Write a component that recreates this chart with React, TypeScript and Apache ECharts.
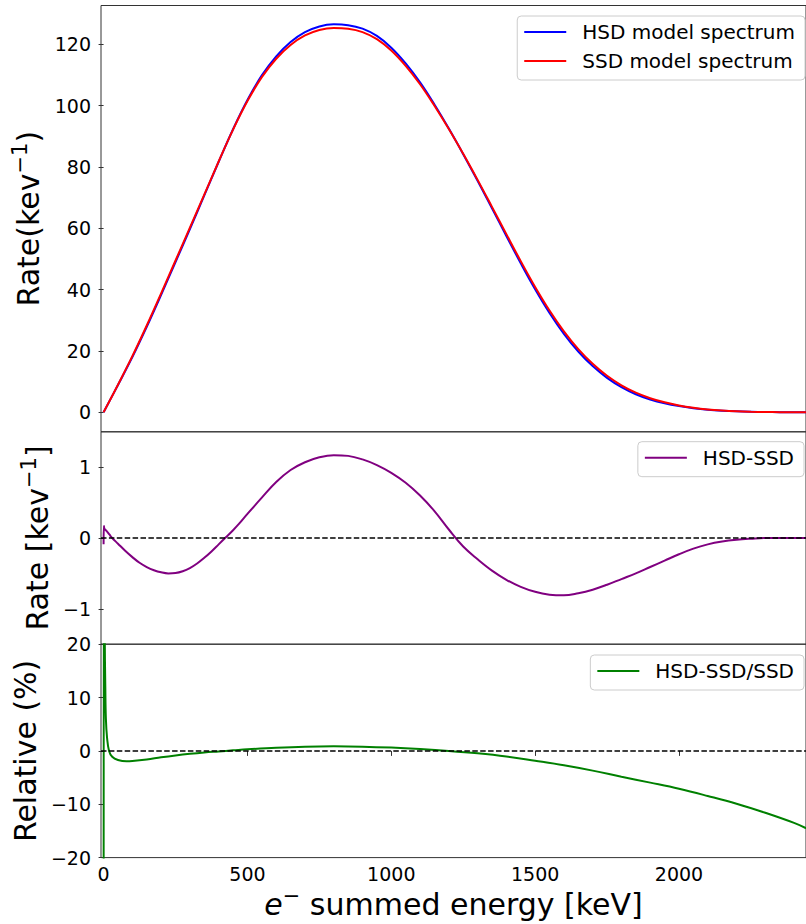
import React, { useEffect, useRef } from 'react';
import * as echarts from 'echarts';

// ---------- data ----------
// Panel 1: model spectra (keV -> rate per keV)
const energies = [
  0, 50, 100, 150, 200, 250, 300, 350, 400, 450, 500, 550, 600, 650, 700, 750, 800, 850, 900, 950,
  1000, 1050, 1100, 1150, 1200, 1250, 1300, 1350, 1400, 1450, 1500, 1550, 1600, 1650, 1700, 1750,
  1800, 1850, 1900, 1950, 2000, 2050, 2100, 2150, 2200, 2250, 2300, 2350, 2400, 2442,
];
const hsdRate = [
  0, 8.92, 18.02, 27.89, 38.31, 49.01, 59.78, 70.72, 81.71, 92.31, 101.84, 109.87, 116.09, 120.76,
  123.97, 125.84, 126.52, 126.26, 125.11, 122.74, 118.92, 113.78, 107.6, 100.38, 92.52, 84.18, 75.5,
  66.54, 57.51, 48.61, 40.14, 32.4, 25.59, 19.82, 15.07, 11.24, 8.22, 5.9, 4.19, 2.93, 2.02, 1.35,
  0.86, 0.53, 0.305, 0.17, 0.09, 0.04, 0.01, 0,
];
const ssdRate = [
  0, 9.0, 18.3, 28.3, 38.8, 49.5, 60.2, 71.0, 81.8, 92.2, 101.5, 109.3, 115.3, 119.8, 122.9, 124.7,
  125.35, 125.1, 124.0, 121.7, 118.0, 113.0, 107.0, 100.0, 92.4, 84.3, 75.8, 67.0, 58.1, 49.3, 40.9,
  33.2, 26.4, 20.6, 15.8, 11.9, 8.8, 6.4, 4.6, 3.25, 2.25, 1.5, 0.95, 0.58, 0.33, 0.18, 0.09, 0.04,
  0.01, 0,
];

// Panel 2: HSD - SSD
const diffEnergies = [
  0, 1, 3, 10, 20, 30, 50, 75, 100, 125, 150, 175, 200, 225, 250, 275, 300, 325, 350, 375, 400, 425,
  450, 475, 500, 550, 600, 650, 700, 750, 800, 850, 900, 950, 1000, 1050, 1100, 1150, 1200, 1250,
  1300, 1350, 1400, 1450, 1500, 1550, 1600, 1650, 1700, 1750, 1800, 1850, 1900, 1950, 2000, 2050,
  2100, 2150, 2200, 2250, 2300, 2442,
];
const diffRate = [
  -0.09, 0.17, 0.13, 0.1, 0.05, 0.0, -0.08, -0.18, -0.27, -0.35, -0.41, -0.455, -0.485, -0.5, -0.495,
  -0.47, -0.425, -0.36, -0.28, -0.19, -0.09, 0.01, 0.11, 0.22, 0.34, 0.57, 0.79, 0.96, 1.07, 1.14,
  1.17, 1.16, 1.11, 1.03, 0.92, 0.78, 0.6, 0.38, 0.12, -0.12, -0.3, -0.46, -0.59, -0.69, -0.76, -0.8,
  -0.81, -0.78, -0.73, -0.66, -0.58, -0.5, -0.41, -0.32, -0.23, -0.15, -0.09, -0.05, -0.025, -0.01,
  0, 0,
];

// Panel 3: relative difference (%)
const relEnergies = [
  0, 1.5, 4, 6, 8, 12, 19, 30, 50, 80, 100, 150, 200, 250, 300, 350, 400, 450, 500, 600, 700, 800,
  900, 1000, 1100, 1200, 1300, 1400, 1500, 1600, 1700, 1800, 1900, 2000, 2100, 2200, 2300, 2400, 2442,
];
const relPct = [
  -80, 80, 22, 12, 6, 2.5, 0, -1.1, -1.7, -1.95, -1.9, -1.6, -1.2, -0.85, -0.55, -0.3, -0.1, 0.1, 0.3,
  0.6, 0.8, 0.87, 0.8, 0.62, 0.35, 0.0, -0.45, -1.05, -1.85, -2.7, -3.7, -4.85, -5.95, -7.1, -8.45,
  -9.9, -11.6, -13.5, -14.5,
];

// Tick labels
const xTicks = [0, 500, 1000, 1500, 2000];
const rateTicks = [0, 20, 40, 60, 80, 100, 120];
const diffTicks = [-1, 0, 1];
const relTicks = [-20, -10, 0, 10, 20];

const seriesNames = ['HSD model spectrum', 'SSD model spectrum', 'HSD-SSD', 'HSD-SSD/SSD'];

// ---------- styling ----------
const FONT = 'DejaVu Sans';
const X_MIN = -9;
const X_MAX = 2441.5;
const GRID_LEFT = 101;
const GRID_WIDTH = 709;
const SPINE = '#333333';

const pairs = (xs: number[], ys: number[]) => xs.map((x, i) => [x, ys[i]]);
const fmt = (v: number) => (v < 0 ? '\u2212' + Math.abs(v) : String(v));

const nameRich = {
  a: { fontFamily: FONT, fontSize: 30, lineHeight: 38, color: '#000' },
  i: { fontFamily: FONT, fontSize: 30, lineHeight: 38, fontStyle: 'italic', color: '#000' },
  s: { fontFamily: FONT, fontSize: 21, lineHeight: 21, verticalAlign: 'top', color: '#000' },
};

const yAxisBase = (grid: number, min: number, max: number, ticks: number[], name: string, gap: number) => ({
  gridIndex: grid,
  type: 'value',
  min,
  max,
  axisLine: { show: false },
  splitLine: { show: false },
  axisTick: { show: true, length: 5, lineStyle: { color: SPINE, width: 1 }, customValues: ticks },
  axisLabel: {
    customValues: ticks,
    fontFamily: FONT,
    fontSize: 19,
    color: '#000',
    margin: 10,
    formatter: fmt,
  },
  name,
  nameLocation: 'middle',
  nameRotate: 90,
  nameGap: gap,
  nameTextStyle: { fontFamily: FONT, fontSize: 30, color: '#000', rich: nameRich },
});

const legendBase = {
  orient: 'vertical',
  icon: 'rect',
  itemWidth: 42,
  itemHeight: 2,
  itemGap: 5,
  selectedMode: false,
  padding: [4, 10, 7, 7],
  backgroundColor: 'rgba(255,255,255,0.8)',
  borderColor: '#cccccc',
  borderWidth: 1,
  borderRadius: 4,
  itemStyle: { borderWidth: 0 },
  textStyle: { fontFamily: FONT, fontSize: 20, color: '#000', lineHeight: 24, padding: [0, 0, 0, 11] },
};

const zeroLine = {
  silent: true,
  symbol: 'none',
  label: { show: false },
  lineStyle: { color: '#000', type: [5.5, 2.4], width: 1.5 },
  data: [{ yAxis: 0 }],
};

const gridBase = {
  left: GRID_LEFT,
  width: GRID_WIDTH,
  show: true,
  borderColor: SPINE,
  borderWidth: 1,
  backgroundColor: 'transparent',
  containLabel: false,
};

const lineSeries = (name: string, idx: number, data: number[][], color: string, extra: any = {}) => ({
  type: 'line',
  name,
  xAxisIndex: idx,
  yAxisIndex: idx,
  data,
  symbol: 'none',
  smooth: 0.4,
  lineStyle: { color, width: 2 },
  itemStyle: { color },
  ...extra,
});

const option = {
  animation: false,
  backgroundColor: '#ffffff',
  grid: [
    { ...gridBase, top: 5.5, height: 426.3 },
    { ...gridBase, top: 431.8, height: 212.4 },
    { ...gridBase, top: 644.2, height: 213.4 },
  ],
  xAxis: [
    { gridIndex: 0, type: 'value', min: X_MIN, max: X_MAX, show: false },
    { gridIndex: 1, type: 'value', min: X_MIN, max: X_MAX, show: false },
    {
      gridIndex: 2,
      type: 'value',
      min: X_MIN,
      max: X_MAX,
      axisLine: { show: false },
      splitLine: { show: false },
      axisTick: { show: true, length: 5, lineStyle: { color: SPINE, width: 1 }, customValues: xTicks },
      axisLabel: { customValues: xTicks, fontFamily: FONT, fontSize: 19, color: '#000', margin: 7, formatter: fmt },
      name: '{i|e}{s|\u2212}{a| summed energy [keV]}',
      nameLocation: 'middle',
      nameGap: 28,
      nameTextStyle: { fontFamily: FONT, fontSize: 30, color: '#000', rich: nameRich },
    },
  ],
  yAxis: [
    yAxisBase(0, -6.36, 132.67, rateTicks, '{a|Rate(kev}{s|\u22121}{a|)}', 52),
    yAxisBase(1, -1.5, 1.5, diffTicks, '{a|Rate [kev}{s|\u22121}{a|]}', 44),
    yAxisBase(2, -20, 20, relTicks, '{a|Relative (%)}', 57),
  ],
  legend: [
    { ...legendBase, data: [seriesNames[0], seriesNames[1]], right: 1, top: 16 },
    { ...legendBase, data: [seriesNames[2]], right: 2, top: 441.7 },
    { ...legendBase, data: [seriesNames[3]], right: 2, top: 655 },
  ],
  series: [
    lineSeries(seriesNames[0], 0, pairs(energies, hsdRate), '#0000ff'),
    lineSeries(seriesNames[1], 0, pairs(energies, ssdRate), '#ff0000'),
    lineSeries(seriesNames[2], 1, pairs(diffEnergies, diffRate), '#800080', { markLine: zeroLine }),
    lineSeries(seriesNames[3], 2, pairs(relEnergies, relPct), '#008000', { markLine: zeroLine }),
  ],
};

export default function App() {
  const ref = useRef<HTMLDivElement>(null);
  useEffect(() => {
    if (!ref.current) return;
    const chart = echarts.init(ref.current, null, { renderer: 'svg', width: 806, height: 924 });
    chart.setOption(option as any);
    return () => chart.dispose();
  }, []);
  return (
    <div
      ref={ref}
      style={{ position: 'absolute', left: 0, top: 0, width: 806, height: 924, background: '#fff' }}
    />
  );
}
